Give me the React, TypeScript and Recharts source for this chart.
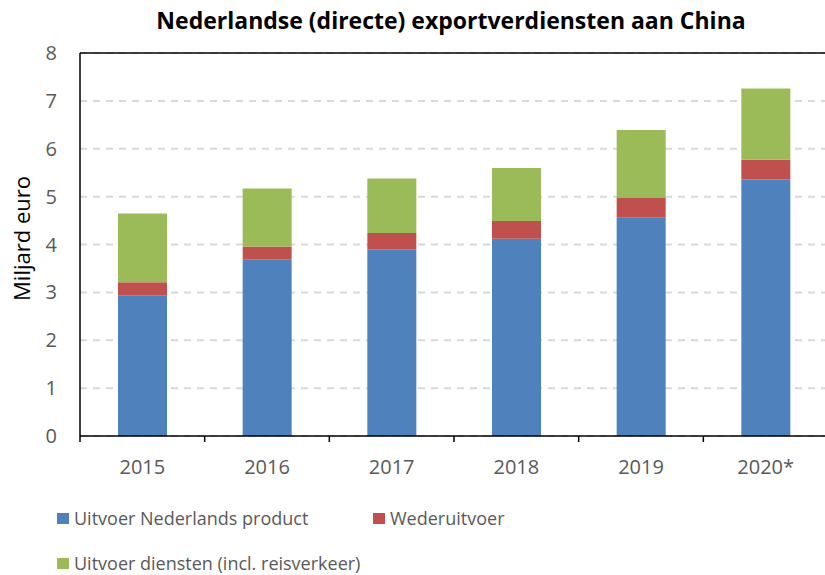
import { BarChart, Bar, XAxis, YAxis, CartesianGrid, Legend, ReferenceLine } from "recharts";

const categories = ["2015", "2016", "2017", "2018", "2019", "2020*"];
const nlProduct = [2.94, 3.69, 3.9, 4.12, 4.56, 5.36];
const reExport = [0.27, 0.27, 0.34, 0.37, 0.41, 0.41];
const services = [1.44, 1.21, 1.14, 1.11, 1.42, 1.49];
const yTicks = [0, 1, 2, 3, 4, 5, 6, 7, 8];

const series = [
  { key: "nl", name: "Uitvoer Nederlands product", color: "#4f81bd" },
  { key: "re", name: "Wederuitvoer", color: "#c0504d" },
  { key: "sv", name: "Uitvoer diensten (incl. reisverkeer)", color: "#9bbb59" },
];

const data = categories.map((year, i) => ({
  year,
  nl: nlProduct[i],
  re: reExport[i],
  sv: services[i],
}));

const FONT = "'Open Sans', sans-serif";

const XTick = (props: any) => {
  const { x, y, payload } = props;
  const half = payload.offset || 62;
  return (
    <g>
      <line x1={x - half} y1={y} x2={x - half} y2={y + 6} stroke="#000" strokeWidth={1.5} />
      <text x={x} y={y + 38} textAnchor="middle" fill="#595959" fontSize={20} fontFamily={FONT}>
        {payload.value}
      </text>
    </g>
  );
};

const LegendBox = () => (
  <div style={{ position: "relative", height: 80, width: 825, fontFamily: FONT, fontSize: 18, color: "#595959" }}>
    {series.map((s, i) => {
      const left = i === 1 ? 373 : 57;
      const top = i === 2 ? 68 : 23;
      return (
        <div key={s.key} style={{ position: "absolute", left, top: top - 12, height: 24, display: "flex", alignItems: "center", whiteSpace: "nowrap" }}>
          <span style={{ width: 12, height: 11, background: s.color, marginRight: 5, display: "inline-block" }} />
          <span>{s.name}</span>
        </div>
      );
    })}
  </div>
);

export default function App() {
  return (
    <div style={{ position: "absolute", left: 0, top: 0, width: 825, height: 575, overflow: "hidden", background: "#fff" }}>
      <div
        style={{
          position: "absolute",
          left: 0,
          top: 5,
          width: 902,
          textAlign: "center",
          fontFamily: FONT,
          fontWeight: 700,
          fontSize: 23,
          lineHeight: "30px",
          color: "#000",
          zIndex: 2,
        }}
      >
        Nederlandse (directe) exportverdiensten aan China
      </div>
      <BarChart
        width={830}
        height={575}
        data={data}
        margin={{ top: 53, right: 2, bottom: 0, left: 30 }}
        barSize={49}
      >
        <CartesianGrid vertical={false} stroke="#d9d9d9" strokeWidth={2} strokeDasharray="7 6" />
        <XAxis
          dataKey="year"
          height={59}
          axisLine={{ stroke: "#000", strokeWidth: 1.5 }}
          tickLine={false}
          tickSize={0}
          tickMargin={0}
          tick={<XTick />}
          interval={0}
        />
        <YAxis
          width={50}
          domain={[0, 8]}
          ticks={yTicks}
          axisLine={{ stroke: "#000", strokeWidth: 1.5 }}
          tickLine={false}
          tickSize={0}
          tickMargin={23}
          tick={{ fill: "#595959", fontSize: 20, fontFamily: FONT }}
          label={{
            content: ({ viewBox }: any) => (
              <text
                x={viewBox.x - 9}
                y={viewBox.y + viewBox.height / 2 - 6}
                transform={`rotate(-90, ${viewBox.x - 9}, ${viewBox.y + viewBox.height / 2 - 6})`}
                textAnchor="middle"
                dominantBaseline="central"
                fontSize={22}
                fontFamily={FONT}
                fill="#000"
              >
                Miljard euro
              </text>
            ),
          }}
        />
        <ReferenceLine y={8} stroke="#000" strokeWidth={1.5} />
        <Legend verticalAlign="bottom" content={<LegendBox />} wrapperStyle={{ left: 0, bottom: 0, width: 825 }} />
        {series.map((s) => (
          <Bar key={s.key} dataKey={s.key} name={s.name} stackId="a" fill={s.color} isAnimationActive={false} />
        ))}
      </BarChart>
    </div>
  );
}
